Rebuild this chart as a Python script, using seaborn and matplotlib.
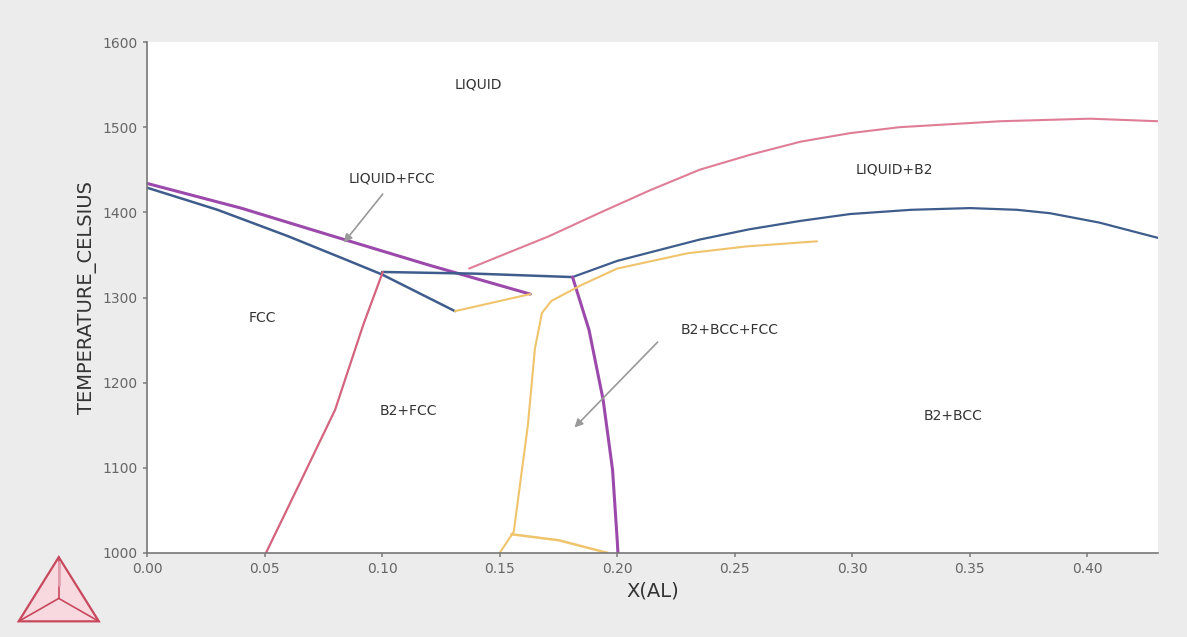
import numpy as np
import pandas as pd
import matplotlib
matplotlib.use("Agg")
import matplotlib.pyplot as plt
import seaborn as sns
from matplotlib.patches import Polygon

sns.set_theme(style="white")
plt.rcParams["font.family"] = ["DejaVu Sans"]

# Phase boundary curves (mole fraction Al, temperature in Celsius)
liq_b2_x = [0.137, 0.171, 0.193, 0.214, 0.235, 0.257, 0.278, 0.299, 0.320, 0.363, 0.401, 0.430]
liq_b2_t = [1334, 1372, 1400, 1426, 1450, 1468, 1483, 1493, 1500, 1507, 1510, 1507]

liq_fcc_x = [0.000, 0.040, 0.078, 0.120, 0.163]
liq_fcc_t = [1434, 1405, 1373, 1338, 1304]

sol_fcc_x = [0.000, 0.030, 0.060, 0.085, 0.100, 0.131]
sol_fcc_t = [1429, 1403, 1372, 1344, 1327, 1284]

tie_x = [0.131, 0.163]
tie_t = [1284, 1304]

eut_x = [0.100, 0.140, 0.181]
eut_t = [1330, 1328, 1324]

b2_liq_x = [0.181, 0.200, 0.214, 0.235, 0.256, 0.278, 0.299, 0.325, 0.350, 0.370, 0.384, 0.405, 0.430]
b2_liq_t = [1324, 1343, 1353, 1368, 1380, 1390, 1398, 1403, 1405, 1403, 1399, 1388, 1370]

fcc_b2_x = [0.0506, 0.065, 0.080, 0.092, 0.1003]
fcc_b2_t = [1000, 1082, 1168, 1268, 1330]

b2_x = [0.181, 0.188, 0.194, 0.198, 0.200, 0.2003]
b2_t = [1324, 1262, 1180, 1098, 1015, 1000]

bcc_x = [0.285, 0.255, 0.230, 0.200, 0.185, 0.172, 0.168, 0.165, 0.162, 0.156, 0.150]
bcc_t = [1366, 1360, 1352, 1334, 1315, 1296, 1282, 1240, 1150, 1025, 1000]

bcc_low_x = [0.155, 0.175, 0.196]
bcc_low_t = [1022, 1015, 1000]

labels = ["LIQUID", "LIQUID+FCC", "LIQUID+B2", "FCC", "B2+BCC+FCC", "B2+FCC", "B2+BCC"]
label_x = [0.141, 0.104, 0.318, 0.049, 0.248, 0.111, 0.343]
label_t = [1550, 1440, 1450, 1276, 1262, 1167, 1161]

fig = plt.figure(figsize=(11.87, 6.37), dpi=100)
fig.patch.set_facecolor("#ececec")
ax = fig.add_axes([0.1238, 0.1319, 0.8518, 0.8021])
ax.set_facecolor("white")

pink = "#e07d96"
blue = "#3f5d8c"
purple = "#9b4aab"
yellow = "#efc46c"
rose = "#d4647e"

curves = [
    (liq_b2_x, liq_b2_t, pink, 1.5),
    (liq_fcc_x, liq_fcc_t, purple, 2.2),
    (sol_fcc_x, sol_fcc_t, blue, 1.8),
    (tie_x, tie_t, yellow, 1.5),
    (eut_x, eut_t, blue, 1.8),
    (b2_liq_x, b2_liq_t, blue, 1.6),
    (fcc_b2_x, fcc_b2_t, rose, 1.6),
    (b2_x, b2_t, purple, 2.2),
    (bcc_x, bcc_t, yellow, 1.5),
    (bcc_low_x, bcc_low_t, yellow, 1.8),
]
for cx, ct, col, lw in curves:
    df = pd.DataFrame({"x": cx, "t": ct})
    sns.lineplot(data=df, x="x", y="t", sort=False, estimator=None,
                 color=col, linewidth=lw, ax=ax)

for txt, lx, lt in zip(labels, label_x, label_t):
    ax.text(lx, lt, txt, fontsize=10, color="#333333", ha="center", va="center")

# pointer arrows for narrow fields
ax.annotate("", xy=(0.083, 1362), xytext=(0.101, 1424),
            arrowprops=dict(arrowstyle="-|>", color="#999999", lw=1.2))
ax.annotate("", xy=(0.181, 1145), xytext=(0.218, 1250),
            arrowprops=dict(arrowstyle="-|>", color="#999999", lw=1.2))

ax.set_xlim(0, 0.43)
ax.set_ylim(1000, 1600)
ax.set_xticks(np.arange(0, 0.41, 0.05))
ax.set_xticklabels([f"{v:.2f}" for v in np.arange(0, 0.41, 0.05)])
ax.set_yticks(np.arange(1000, 1601, 100))
ax.tick_params(axis="both", labelsize=10, labelcolor="#666666", length=3,
               color="#888888", direction="out", bottom=True, left=True)
ax.set_xlabel("X(AL)", fontsize=14, color="#333333")
ax.set_ylabel("TEMPERATURE_CELSIUS", fontsize=14, color="#333333")
for side in ["top", "right"]:
    ax.spines[side].set_visible(False)
for side in ["left", "bottom"]:
    ax.spines[side].set_color("#777777")
    ax.spines[side].set_linewidth(1.2)

# triangular logo in the lower-left corner
lax = fig.add_axes([0.012, 0.015, 0.075, 0.12])
lax.set_xlim(0, 1)
lax.set_ylim(0, 1)
lax.axis("off")
tri = np.array([[0.05, 0.08], [0.95, 0.08], [0.5, 0.92]])
lax.add_patch(Polygon(tri, closed=True, fill=True, facecolor="#f7d9df",
                      edgecolor="#c8485e", linewidth=1.6))
inner = np.array([0.5, 0.38])
for v in tri:
    lax.plot([inner[0], v[0]], [inner[1], v[1]], color="#c8485e", lw=1.2)
lax.plot([0.5, 0.5], [0.55, 0.85], color="#e0a0b0", lw=2)

fig.savefig("out.png", dpi=100, facecolor=fig.get_facecolor())
